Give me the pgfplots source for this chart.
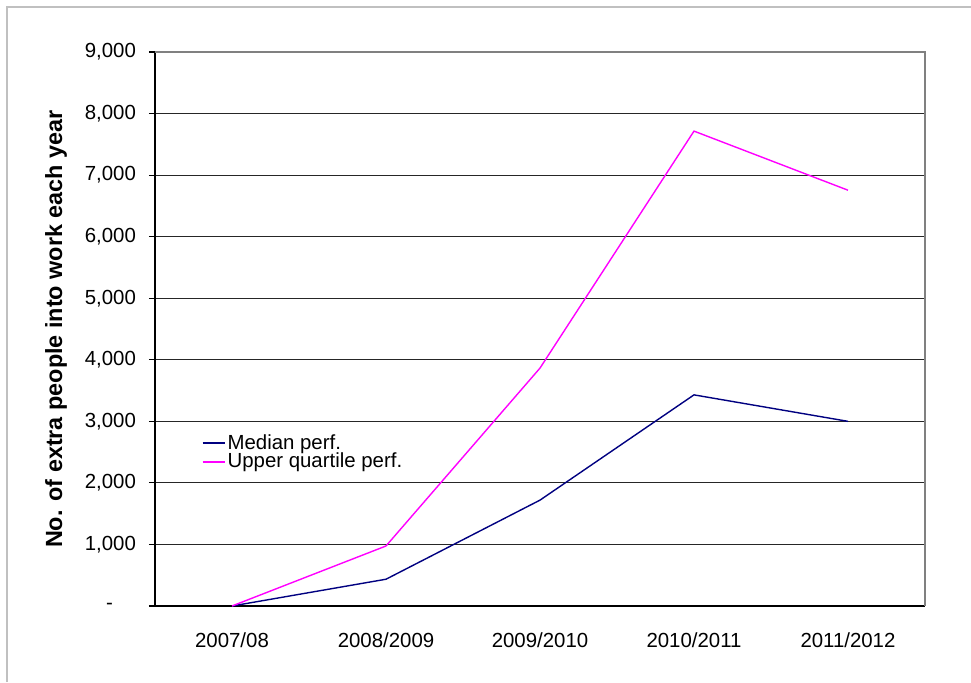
\documentclass[border=0pt]{standalone}
\usepackage{pgfplots}
\pgfplotsset{compat=1.18}
\usepackage{fontspec}
\setmainfont{Liberation Sans}

\definecolor{mediancol}{RGB}{0,0,128}
\definecolor{uppercol}{RGB}{255,0,255}
\definecolor{framecol}{RGB}{192,192,192}
\definecolor{edgecol}{RGB}{128,128,128}

% Extra people into work each year, by performance level
\pgfplotstableread{
x median upper
0 0    0
1 435  975
2 1720 3865
3 3430 7715
4 3000 6755
}\jobs

\begin{document}
\begin{tikzpicture}[x=1pt,y=1pt]
  % overall size of the chart area
  \useasboundingbox (0,0) rectangle (485.5,341);
  % chart area frame
  \draw[framecol, line width=1pt] (3.5,0) -- (3.5,337.5) -- (485.5,337.5);

  \begin{axis}[
    at={(77.5pt,38pt)}, anchor=south west,
    scale only axis, width=385pt, height=277pt,
    xmin=-0.5, xmax=4.5, ymin=0, ymax=9000,
    axis x line*=bottom, axis y line*=left,
    axis line style={black, line width=0.6pt},
    font=\fontsize{10.2}{12}\selectfont,
    xtick={0,1,2,3,4},
    xticklabels={2007/08,2008/2009,2009/2010,2010/2011,2011/2012},
    major x tick style={draw=none},
    extra x ticks={-0.5,0.5,1.5,2.5,3.5,4.5},
    extra x tick labels={},
    extra x tick style={major tick length=6pt, tick style={black, line width=0.6pt}, grid=none},
    xticklabel style={yshift=-7pt},
    ytick={0,1000,...,9000},
    yticklabels={-\rule{11.5pt}{0pt},{1,000},{2,000},{3,000},{4,000},{5,000},{6,000},{7,000},{8,000},{9,000}},
    yticklabel style={xshift=-3pt},
    tick align=outside, major tick length=3pt,
    tick style={black, line width=0.6pt},
    ymajorgrids, major grid style={black!85, line width=0.5pt},
    ylabel={\fontsize{11.7}{12}\selectfont\bfseries No. of extra people into work each year},
    ylabel style={at={([xshift=-49.5pt]axis description cs:0,0.5)}, anchor=center},
    legend style={draw=none, fill=none, at={(0.06,0.314)}, anchor=north west,
      font=\fontsize{10.2}{10}\selectfont, inner sep=0pt, row sep=-1.8pt,
      nodes={inner sep=1pt}},
    legend cell align=left,
    clip=false,
  ]
    \addplot[mediancol, line width=0.7pt, forget plot] table[x=x, y=median] {\jobs};
    \addplot[uppercol, line width=0.7pt, forget plot] table[x=x, y=upper] {\jobs};
    % legend keys, drawn in the series' colours
    \addlegendimage{legend image code/.code={\draw[mediancol, line width=1pt] (0pt,0pt) -- (11pt,0pt);}}
    \addlegendentry{Median perf.}
    \addlegendimage{legend image code/.code={\draw[uppercol, line width=1pt] (0pt,0pt) -- (11pt,0pt);}}
    \addlegendentry{Upper quartile perf.}
    % plot area edges on the right and top
    \draw[edgecol, line width=0.6pt] (rel axis cs:1,0) -- (rel axis cs:1,1) -- (rel axis cs:0,1);
  \end{axis}
\end{tikzpicture}
\end{document}
